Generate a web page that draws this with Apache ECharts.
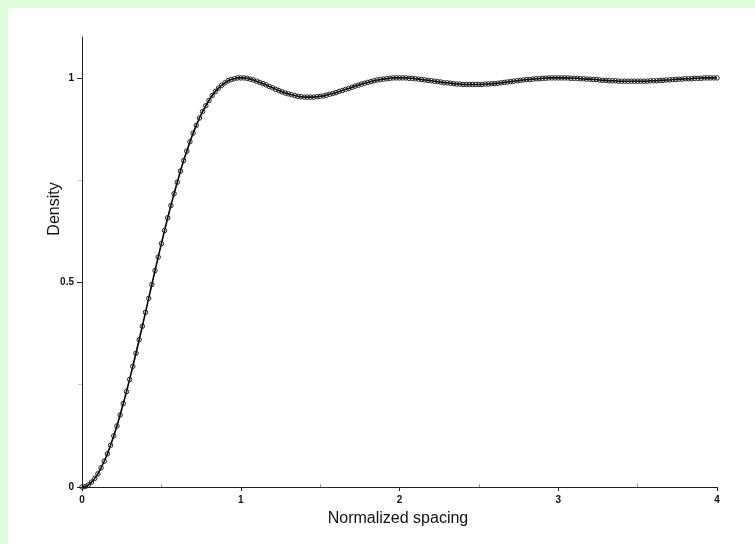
<!DOCTYPE html>
<html>
<head>
<meta charset="utf-8">
<script src="https://cdn.jsdelivr.net/npm/echarts@6/dist/echarts.min.js"></script>
<style>
  html, body { margin: 0; padding: 0; background: #ddfcd9; }
  #paper { position: absolute; left: 8px; top: 8px; width: 747px; height: 536px; background: #fff; }
  #chart { position: absolute; left: 0; top: 0; width: 755px; height: 544px; }
</style>
</head>
<body>
<div id="paper"></div>
<div id="chart"></div>
<script>
// sampling step of the normalized spacing (x) grid
const spacingStep = 0.02;

// density, one value per step from 0 to 4
const density = [
  0.000, 0.001, 0.005, 0.012, 0.021, 0.032, 0.047, 0.063, 0.081, 0.102,
  0.125, 0.149, 0.176, 0.204, 0.233, 0.263, 0.295, 0.327, 0.360, 0.393,
  0.427, 0.461, 0.495, 0.529, 0.562, 0.595, 0.627, 0.658, 0.688, 0.717,
  0.745, 0.772, 0.798, 0.821, 0.844, 0.865, 0.884, 0.902, 0.918, 0.932,
  0.945, 0.957, 0.967, 0.975, 0.982, 0.988, 0.993, 0.996, 0.998, 1.000,
  1.000, 1.000, 0.999, 0.997, 0.995, 0.992, 0.989, 0.986, 0.983, 0.979,
  0.976, 0.972, 0.969, 0.966, 0.963, 0.961, 0.959, 0.957, 0.955, 0.954,
  0.953, 0.953, 0.953, 0.953, 0.954, 0.955, 0.956, 0.958, 0.960, 0.962,
  0.964, 0.967, 0.969, 0.972, 0.974, 0.977, 0.980, 0.982, 0.985, 0.987,
  0.989, 0.991, 0.993, 0.995, 0.996, 0.997, 0.998, 0.999, 1.000, 1.000,
  1.000, 1.000, 1.000, 0.999, 0.999, 0.998, 0.997, 0.996, 0.995, 0.994,
  0.993, 0.992, 0.991, 0.990, 0.988, 0.988, 0.987, 0.986, 0.985, 0.985,
  0.984, 0.984, 0.984, 0.984, 0.984, 0.984, 0.984, 0.985, 0.985, 0.986,
  0.986, 0.987, 0.988, 0.989, 0.990, 0.991, 0.992, 0.993, 0.994, 0.995,
  0.996, 0.996, 0.997, 0.998, 0.998, 0.999, 0.999, 1.000, 1.000, 1.000,
  1.000, 1.000, 1.000, 1.000, 0.999, 0.999, 0.999, 0.998, 0.998, 0.997,
  0.997, 0.996, 0.996, 0.995, 0.994, 0.994, 0.993, 0.993, 0.993, 0.992,
  0.992, 0.992, 0.992, 0.992, 0.992, 0.992, 0.992, 0.992, 0.992, 0.993,
  0.993, 0.993, 0.994, 0.994, 0.995, 0.995, 0.996, 0.996, 0.997, 0.997,
  0.998, 0.998, 0.998, 0.999, 0.999, 0.999, 1.000, 1.000, 1.000, 1.000,
  1.000
];

const xTickValues = [0, 1, 2, 3, 4];
const xMinorTickValues = [0.5, 1.5, 2.5, 3.5];
const yTickValues = [0, 0.5, 1];
const yMinorTickValues = [0.25, 0.75];

const points = density.map((d, i) => [+(i * spacingStep).toFixed(2), d]);

const chart = echarts.init(document.getElementById('chart'), null, { renderer: 'canvas' });

const labelStyle = {
  color: '#111',
  fontFamily: 'Liberation Sans, Arial, sans-serif',
  fontWeight: 'bold',
  fontSize: 10
};

const option = {
  backgroundColor: 'transparent',
  animation: false,
  grid: { left: 82, right: 38, top: 37, bottom: 57 },
  xAxis: [
    {
      type: 'value',
      min: 0,
      max: 4,
      interval: 1,
      axisLine: { show: true, lineStyle: { color: '#222', width: 1 } },
      axisTick: { show: true, customValues: xTickValues, length: 4, lineStyle: { color: '#222' } },
      axisLabel: { customValues: xTickValues, margin: 8, ...labelStyle },
      splitLine: { show: false }
    },
    {
      type: 'value',
      min: 0,
      max: 4,
      position: 'bottom',
      axisLine: { show: false },
      axisTick: { show: true, inside: true, customValues: xMinorTickValues, length: 3, lineStyle: { color: '#999' } },
      axisLabel: { show: false },
      splitLine: { show: false }
    }
  ],
  yAxis: [
    {
      type: 'value',
      min: 0,
      max: 1.1,
      axisLine: { show: true, lineStyle: { color: '#222', width: 1 } },
      axisTick: { show: true, customValues: yTickValues, length: 5, lineStyle: { color: '#222' } },
      axisLabel: { customValues: yTickValues, margin: 8, ...labelStyle },
      splitLine: { show: false }
    },
    {
      type: 'value',
      min: 0,
      max: 1.1,
      position: 'left',
      offset: 0,
      axisLine: { show: false },
      axisTick: { show: true, customValues: yMinorTickValues, length: 4, lineStyle: { color: '#ccc' } },
      axisLabel: { show: false },
      splitLine: { show: false }
    }
  ],
  graphic: [
    {
      type: 'text',
      x: 55,
      y: 209,
      rotation: Math.PI / 2,
      style: {
        text: 'Density',
        fill: '#111',
        font: '16px "Liberation Sans", Arial, sans-serif',
        align: 'center',
        verticalAlign: 'middle'
      }
    },
    {
      type: 'text',
      x: 398,
      y: 519,
      style: {
        text: 'Normalized spacing',
        fill: '#111',
        font: '16px "Liberation Sans", Arial, sans-serif',
        align: 'center',
        verticalAlign: 'middle'
      }
    }
  ],
  series: [
    {
      type: 'line',
      data: points,
      xAxisIndex: 0,
      yAxisIndex: 0,
      showSymbol: true,
      showAllSymbol: true,
      symbol: 'circle',
      symbolSize: 4.5,
      itemStyle: { color: 'rgba(255,255,255,0)', borderColor: '#222', borderWidth: 1 },
      lineStyle: { color: '#000', width: 1.6 },
      emphasis: { disabled: true }
    }
  ]
};

chart.setOption(option);
</script>
</body>
</html>
